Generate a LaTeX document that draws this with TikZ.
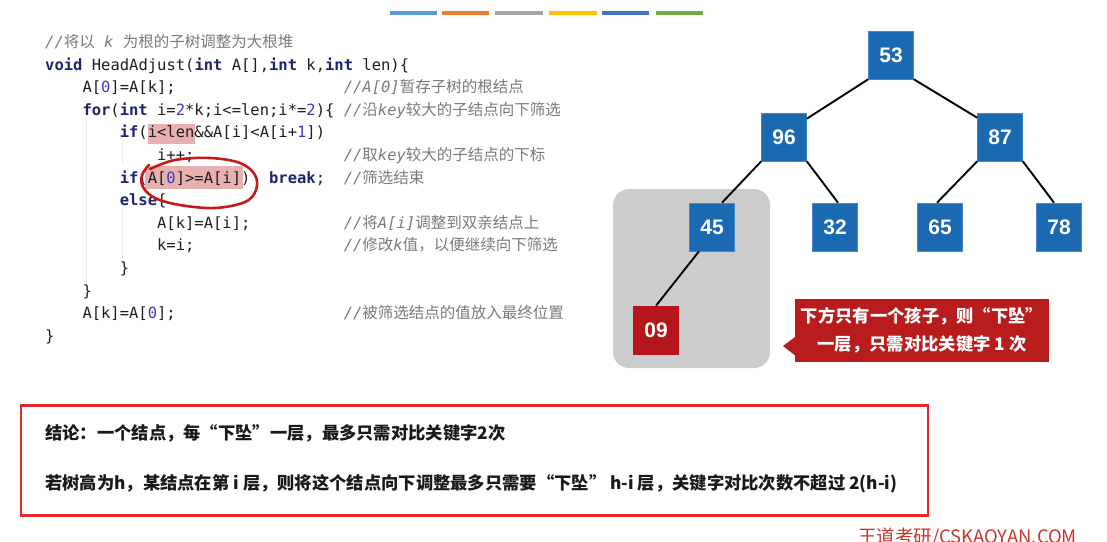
\documentclass[tikz,border=0pt]{standalone}
\usepackage{fontspec}
\setmainfont{Liberation Sans}
\setmonofont{DejaVu Sans Mono}
\newfontfamily\cjk{Noto Sans CJK SC}
\newfontfamily\hsans{Liberation Sans}
\usetikzlibrary{calc}
\definecolor{kwc}{HTML}{1E2470}
\definecolor{numc}{HTML}{3B3BC0}
\definecolor{codec}{HTML}{1E1E1E}
\definecolor{cmtc}{HTML}{7A7A7A}
\definecolor{tblue}{HTML}{1B69B0}
\definecolor{tborder}{HTML}{3F8BD0}
\definecolor{nred}{HTML}{B5161B}
\definecolor{cored}{HTML}{B81C1C}
\definecolor{boxgray}{HTML}{CCCCCC}
\definecolor{hlpink}{HTML}{E9B0B0}
\definecolor{circred}{HTML}{C41A1A}
\definecolor{frame}{HTML}{E02A2C}
\definecolor{wmred}{HTML}{C8352C}
\definecolor{barA}{HTML}{5B9BD5}
\definecolor{barB}{HTML}{ED7D31}
\definecolor{barC}{HTML}{A5A5A5}
\definecolor{barD}{HTML}{FFC000}
\definecolor{barE}{HTML}{4472C4}
\definecolor{barF}{HTML}{70AD47}
\newcommand\codefont{\ttfamily\fontsize{15.5}{18}\selectfont}
\newcommand\kw[1]{\textcolor{kwc}{\bfseries #1}}
\newcommand\nm[1]{\textcolor{numc}{#1}}
\newcommand\zh[1]{{\cjk\upshape #1}}
\tikzset{
  codeln/.style={anchor=base west, inner sep=0pt, font=\codefont, text=codec},
  cmt/.style={anchor=base west, inner sep=0pt, font=\codefont\itshape, text=cmtc},
  tnode/.style={rectangle, fill=tblue, draw=tborder, line width=0.6pt, minimum width=45, minimum height=48, inner sep=0pt, text=white, font=\hsans\bfseries\fontsize{21}{21}\selectfont},
  rnode/.style={tnode, fill=nred, draw=nred},
  edge/.style={line width=1.9pt, black},
  conc/.style={anchor=west, inner sep=0pt, text=black!90, font=\cjk\bfseries\fontsize{17.3}{20}\selectfont},
}
\begin{document}
\begin{tikzpicture}[x=1pt,y=-1pt]
\useasboundingbox (0,0) rectangle (1107,541);
\clip (0,0) rectangle (1107,541);
% top bars
\fill[barA] (390,10.7) rectangle (437,15.3);
\fill[barB] (442,10.7) rectangle (489,15.3);
\fill[barC] (495,10.7) rectangle (543,15.3);
\fill[barD] (549,10.7) rectangle (597,15.3);
\fill[barE] (602,10.7) rectangle (649,15.3);
\fill[barF] (656,10.7) rectangle (703,15.3);
% indent guides
\draw[black!8, line width=0.8pt] (86,118) -- (86,282);
\draw[black!8, line width=0.8pt] (122,141) -- (122,165);
\draw[black!8, line width=0.8pt] (122,209) -- (122,259);
% highlights
\fill[hlpink] (148,124) rectangle (195,144);
\fill[hlpink] (145,166) rectangle (243,189);
% code
\node[cmt] (k1) at (45,47.5) {//\zh{将以} k \zh{为根的子树调整为大根堆}};
\node[codeln] (c2) at (45,70.1) {\kw{void} HeadAdjust(\kw{int} A[],\kw{int} k,\kw{int} len)\{};
\node[codeln] (c3) at (82.3,92.7) {A[\nm{0}]=A[k];};
\node[cmt] (k3) at (343.6,92.7) {//A[0]\zh{暂存子树的根结点}};
\node[codeln] (c4) at (82.3,115.3) {\kw{for}(\kw{int} i=\nm{2}*k;i<=len;i*=\nm{2})\{};
\node[cmt] (k4) at (343.6,115.3) {//\zh{沿}key\zh{较大的子结点向下筛选}};
\node[codeln] (c5) at (119.6,137.9) {\kw{if}(i<len\&\&A[i]<A[i+\nm{1}])};
\node[codeln] (c6) at (156.9,160.5) {i++;};
\node[cmt] (k6) at (343.6,160.5) {//\zh{取}key\zh{较大的子结点的下标}};
\node[codeln] (c7) at (119.6,183.1) {\kw{if}(A[\nm{0}]>=A[i])\ \ \kw{break};};
\node[cmt] (k7) at (343.6,183.1) {//\zh{筛选结束}};
\node[codeln] (c8) at (119.6,205.7) {\kw{else}\{};
\node[codeln] (c9) at (156.9,228.3) {A[k]=A[i];};
\node[cmt] (k9) at (343.6,228.3) {//\zh{将}A[i]\zh{调整到双亲结点上}};
\node[codeln] (c10) at (156.9,250.9) {k=i;};
\node[cmt] (k10) at (343.6,250.9) {//\zh{修改}k\zh{值，以便继续向下筛选}};
\node[codeln] (c11) at (119.6,273.5) {\}};
\node[codeln] (c12) at (82.3,296.1) {\}};
\node[codeln] (c13) at (82.3,318.7) {A[k]=A[\nm{0}];};
\node[cmt] (k13) at (343.6,318.7) {//\zh{被筛选结点的值放入最终位置}};
\node[codeln] (c14) at (45,341.3) {\}};
% hand drawn circle
\draw[circred, line width=2.6pt, line cap=round] plot[smooth, tension=0.6] coordinates {(150,169) (175,160) (210,158) (240,163) (255,175) (256,190) (245,202) (215,208) (180,205) (155,198) (143,187) (142,175) (149,165)};
% gray box
\node[fill=boxgray, rounded corners=16pt, minimum width=157, minimum height=179, inner sep=0pt] (gbox) at (691.5,278.5) {};
% tree
\node[tnode] (n53) at (891,55) {53};
\node[tnode] (n96) at (784,137) {96};
\node[tnode] (n87) at (1000,137) {87};
\node[tnode] (n45) at (712,227) {45};
\node[tnode] (n32) at (835,227) {32};
\node[tnode] (n65) at (940,227) {65};
\node[tnode] (n78) at (1059,227) {78};
\node[rnode] (n09) at (656,330) {09};
\draw[edge] (n53.south west) -- ($(n96.north east)+(0,6)$);
\draw[edge] (n53.south east) -- ($(n87.north west)+(0,5)$);
\draw[edge] (n96.south west) -- ($(n45.north)+(10,0)$);
\draw[edge] (n96.south east) -- ($(n32.north)+(3,0)$);
\draw[edge] (n87.south west) -- ($(n65.north)+(-3,0)$);
\draw[edge] (n87.south east) -- ($(n78.north)+(-5,0)$);
\draw[edge] ($(n45.south)+(-13,0)$) -- (n09.north);
% callout
\node[fill=cored, minimum width=254, minimum height=63, inner sep=0pt, text=white, align=center, font=\cjk\bfseries\fontsize{17.3}{28}\selectfont] (co) at (922,330.5) {下方只有一个孩子，则“下坠”\\一层，只需对比关键字 1 次};
\coordinate (tip) at (783,346);
\fill[cored] ($(co.south west)+(0,-7)$) -- (tip) -- ($(co.south west)+(0,-25)$) -- cycle;
% conclusion box
\node[draw=frame, line width=2.2pt, minimum width=907, minimum height=110, inner sep=0pt] (box) at (474.5,460.5) {};
\node[conc] (t1) at (45,433) {结论：一个结点，每“下坠”一层，最多只需对比关键字2次};
\node[conc] (t2) at (45,484) {若树高为h，某结点在第 i 层，则将这个结点向下调整最多只需要“下坠” h-i 层，关键字对比次数不超过 2(h-i)};
% watermark (cut off at the lower edge, as in the reference)
\node[anchor=north west, inner sep=0pt, text=wmred, font=\cjk\fontsize{18.5}{20}\selectfont] (wm) at (858,528) {王道考研/CSKAOYAN.COM};
\end{tikzpicture}
\end{document}
